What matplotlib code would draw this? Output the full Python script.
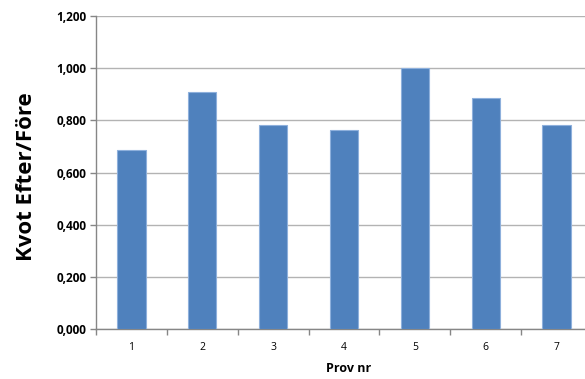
import matplotlib.pyplot as plt
from matplotlib.ticker import FixedLocator, FuncFormatter

prov = [1, 2, 3, 4, 5, 6, 7]
kvot = [0.687, 0.910, 0.784, 0.764, 1.000, 0.887, 0.784]
yticks = [0.0, 0.2, 0.4, 0.6, 0.8, 1.0, 1.2]

plt.rcParams['font.family'] = ['Open Sans', 'DejaVu Sans']

fig = plt.figure(figsize=(5.85, 3.79), dpi=100)
ax = fig.add_axes([96 / 585, 1 - 329.3 / 379, 496 / 585, 313.3 / 379])

ax.bar(prov, kvot, width=0.4, color='#4f81bd', edgecolor='#8eb0dc',
       linewidth=0.8, zorder=3)

ax.set_xlim(0.5, 7.5)
ax.set_ylim(0, 1.2)
ax.set_yticks(yticks)
ax.yaxis.set_major_formatter(FuncFormatter(lambda v, p: f"{v:.3f}".replace('.', ',')))
ax.grid(axis='y', color='#b3b3b3', linewidth=1.0, zorder=0)

# category labels in the middle, tick marks on the boundaries
ax.set_xticks(prov)
ax.set_xticklabels([str(p) for p in prov], fontsize=7.5)
ax.tick_params(axis='x', which='major', length=0, pad=9)
ax.xaxis.set_minor_locator(FixedLocator([x + 0.5 for x in range(0, 8)]))
ax.tick_params(axis='x', which='minor', length=4, color='#868686', width=1)
ax.tick_params(axis='y', length=4, color='#868686', width=1, labelsize=8.5, pad=3)
for lbl in ax.get_yticklabels():
    lbl.set_fontweight('bold')

for side in ['top', 'right']:
    ax.spines[side].set_visible(False)
for side in ['left', 'bottom']:
    ax.spines[side].set_color('#868686')
    ax.spines[side].set_linewidth(1.0)

fig.text(27 / 585, 1 - 177 / 379, 'Kvot Efter/Före', rotation=90, fontsize=16,
         fontweight='bold', ha='center', va='center')
fig.text(349 / 585, 1 - 369 / 379, 'Prov nr', fontsize=9, fontweight='bold',
         ha='center', va='center')

fig.savefig('out.png', dpi=100)
